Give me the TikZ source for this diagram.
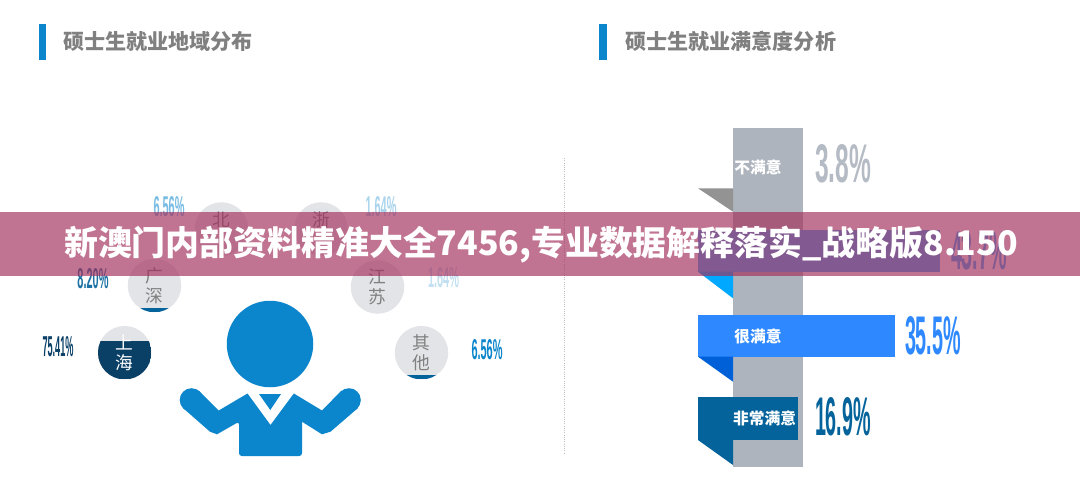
\documentclass[tikz,border=0pt]{standalone}
\usepackage{fontspec}
\usepackage{graphicx}
\setmainfont{Liberation Sans}
\newfontfamily\cjkfont{Noto Sans CJK SC}
\newlength\unitpx
\setlength\unitpx{0.25mm}
\newcommand{\pctlabel}[3]{\resizebox{#1\unitpx}{#2\unitpx}{\bfseries #3}}
\definecolor{personblue}{HTML}{0B85CC}
\definecolor{headgray}{HTML}{808080}
\definecolor{columngray}{HTML}{ADB4BD}
\definecolor{foldgray}{HTML}{939393}
\definecolor{circlegray}{HTML}{E3E4E8}
\definecolor{navyblue}{HTML}{0A3F66}
\definecolor{deepblue}{HTML}{04639B}
\definecolor{skyblue}{HTML}{3FAEFB}
\definecolor{skyfold}{HTML}{00A8FF}
\definecolor{brightblue}{HTML}{2E88FF}
\definecolor{brightfold}{HTML}{0060D8}
\definecolor{bannerred}{HTML}{A3305C}
\tikzset{
  headbar/.style={fill=personblue, minimum width=7.5*\unitpx, minimum height=36*\unitpx, inner sep=0pt},
  headtext/.style={text=headgray, anchor=west, inner sep=0pt, font=\cjkfont\bfseries\fontsize{15}{15}\selectfont},
  citybub/.style={circle, fill=circlegray, minimum size=53.5*\unitpx, inner sep=0pt, align=center, text=headgray,
    font=\cjkfont\fontsize{12.6}{14.2}\selectfont},
  fillto/.style 2 args={path picture={\fill[#1] ([yshift=#2*\unitpx]path picture bounding box.south west) rectangle (path picture bounding box.south east);}},
  pct/.style={inner sep=0pt, font=\rmfamily},
  barlabel/.style={text=white, inner sep=0pt, font=\cjkfont\bfseries\fontsize{11.2}{12}\selectfont},
}
\begin{document}
\begin{tikzpicture}[x=0.25mm,y=-0.25mm]
\useasboundingbox (0,0) rectangle (1080,488);
\fill[white] (0,0) rectangle (1080,488);
% headings
  \node[headbar] (barleft) at (42.5,41.5) {};
  \node[headtext] (headleft) at (63,41.5) {硕士生就业地域分布};
  \node[headbar] (barright) at (603,41.5) {};
  \node[headtext] (headright) at (625,41.5) {硕士生就业满意度分析};
% cities
  \node[citybub] (beijing) at (221.5,229) {北\\~};
  \node[citybub] (zhejiang) at (321,229) {浙\\~};
  \node[citybub, fillto={deepblue}{4.5}] (shenzhen) at (154.5,285.5) {广\\深};
  \node[citybub] (jiangsu) at (377.5,287) {江\\苏};
  \node[citybub, fillto={navyblue}{38.5}, text=white] (shanghai) at (124.7,352.7) {上\\海};
  \node[citybub, fillto={deepblue}{4.5}] (other) at (421.5,352.7) {其\\他};
% city values
  \node[pct, text=personblue!55] (valbj) at (169,206.7) {\pctlabel{31}{20}{6.56\%}};
  \node[pct, text=personblue!35] (valzj) at (381,206.7) {\pctlabel{31}{20}{1.64\%}};
  \node[pct, text=deepblue!90] (valsz) at (93,279) {\pctlabel{31}{20}{8.20\%}};
  \node[pct, text=personblue!25] (valjs) at (443.5,277.7) {\pctlabel{31}{20}{1.64\%}};
  \node[pct, text=navyblue] (valsh) at (58,346.7) {\pctlabel{31}{20}{75.41\%}};
  \node[pct, text=personblue] (valot) at (487,349.3) {\pctlabel{31}{20}{6.56\%}};
% person
  \node[circle, fill=personblue, minimum size=86.5*\unitpx, inner sep=0pt] (head) at (270,344) {};
  \fill[personblue] (247.5,393.5) -- (270.5,425) -- (293.8,393.5) -- (322,410.5) -- (341.5,390.5)
    -- (358,408) -- (330.5,431.7) -- (322,434.3) -- (302,421.7) [rounded corners=2pt] -- (302,456) -- (239,456) -- (239,421.7) [sharp corners]
    -- (217,434.3) -- (210,431.7) -- (183,408) -- (198.6,390.5) -- (218.7,410.5) -- cycle;
  \fill[personblue] (191.5,400) circle (11.8) (349,400) circle (11.8);
  \fill[personblue] (259,394) -- (281,394) -- (270.3,410) -- cycle;
% satisfaction
  \draw[densely dotted, gray!50, line width=0.6pt] (564.5,158) -- (564.5,452.7);
  \node[fill=columngray, minimum width=70*\unitpx, minimum height=338.4*\unitpx, inner sep=0pt] (column) at (768,297.5) {};
  \fill[foldgray] (698,188.3) -- (733,188.3) -- (733,211.7) -- cycle;
  \node[barlabel] (lblno) at (758,167.3) {不满意};
  \node[pct, text=columngray!90] (valno) at (843,164) {\pctlabel{56}{38}{3.8\%}};
  \fill[skyblue] (698,230) rectangle (939.5,271.7);
  \fill[skyfold] (698,271.7) -- (733,271.7) -- (733,298.3) -- cycle;
  \node[pct, text=skyblue] (valok) at (979,251) {\pctlabel{56}{38}{43.7\%}};
  \fill[brightblue] (698,315) rectangle (894.7,356.7);
  \fill[brightfold] (698,356.7) -- (733,356.7) -- (733,381.7) -- cycle;
  \node[barlabel] (lblgood) at (758,336.7) {很满意};
  \node[pct, text=brightblue] (valgood) at (933,336) {\pctlabel{56}{38}{35.5\%}};
  \fill[deepblue] (698,397.3) rectangle (797.6,440);
  \fill[deepblue] (698,440) -- (733,440) -- (733,465) -- cycle;
  \node[barlabel] (lblbest) at (764.5,418.3) {非常满意};
  \node[pct, text=deepblue] (valbest) at (843,417) {\pctlabel{56}{38}{16.9\%}};
% banner
  \fill[bannerred, opacity=0.67] (0,212) rectangle (1080,276);
  \node[text=white, inner sep=0pt, font=\cjkfont\bfseries\fontsize{24.1}{25}\selectfont] (banner) at (541,245) {新澳门内部资料精准大全7456,专业数据解释落实\_战略版8.150};
\end{tikzpicture}
\end{document}
